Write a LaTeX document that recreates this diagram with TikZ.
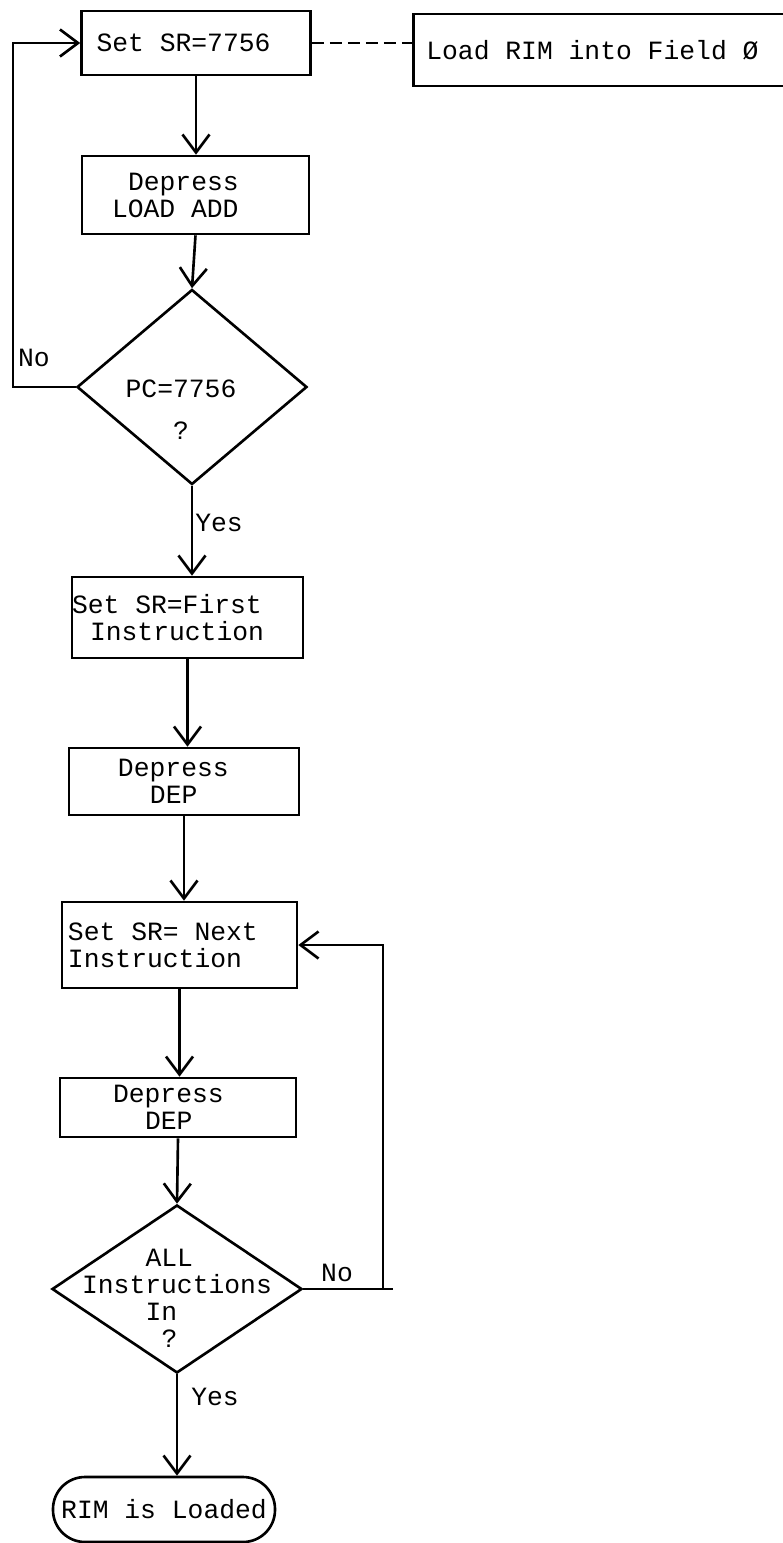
\documentclass[tikz,border=0pt]{standalone}
\usepackage{fontspec}
\usepackage{tikz}
\usetikzlibrary{shapes.geometric,arrows.meta}
\newfontfamily\flowfont{Liberation Mono}
\newcommand{\monogap}{\hspace*{0.6em}}

\begin{document}
\begin{tikzpicture}[every node/.style={font=\flowfont\fontsize{15}{15.4}\selectfont},
    stepbox/.style={draw,line width=1.5pt,inner sep=0pt,align=left},
    decision/.style={draw,line width=1.5pt,shape=diamond,inner sep=0pt},
    flow/.style={line width=1.5pt,-{Straight Barb[length=0.36cm,width=0.54cm]}}]
    \useasboundingbox (0,0) rectangle (15.64,-30.86);
    \node[stepbox,text width=4.58cm,minimum height=1.28cm] (setaddr) at (3.92,-0.86) {\hspace*{0.3cm}Set\monogap SR=7756};
    \node[stepbox,text width=7.8cm,minimum height=1.44cm,anchor=west] (loadrim) at (8.24,-1.0) {\hspace*{0.26cm}Load\monogap RIM\monogap into\monogap Field\monogap Ø};
    \node[stepbox,text width=4.54cm,minimum height=1.56cm] (loadadd) at (3.91,-3.9) {\hspace*{0.92cm}Depress\\\hspace*{0.6cm}LOAD\monogap ADD};
    \node[decision,minimum width=4.6cm,minimum height=3.9cm,
        label={[align=left,xshift=-0.22cm,yshift=-0.46cm]center:PC=7756\\[0.3cm]\hspace*{0.95cm}?}] (pccheck) at (3.84,-7.74) {};
    \node[stepbox,text width=4.62cm,minimum height=1.62cm] (firstins) at (3.75,-12.35) {Set\monogap SR=First\\\hspace*{0.36cm}Instruction};
    \node[stepbox,text width=4.6cm,minimum height=1.34cm] (depfirst) at (3.68,-15.63) {\hspace*{0.98cm}Depress\\\hspace*{1.62cm}DEP};
    \node[stepbox,text width=4.7cm,minimum height=1.72cm] (nextins) at (3.59,-18.9) {\hspace*{0.12cm}Set\monogap SR=\monogap Next\\\hspace*{0.12cm}Instruction};
    \node[stepbox,text width=4.72cm,minimum height=1.18cm] (depnext) at (3.56,-22.15) {\hspace*{1.06cm}Depress\\\hspace*{1.7cm}DEP};
    \node[decision,minimum width=5.0cm,minimum height=3.36cm,
        label={[align=left,yshift=-0.18cm]center:\hspace*{1.27cm}ALL\\Instructions\\\hspace*{1.27cm}In\\\hspace*{1.59cm}?}] (allin) at (3.54,-25.78) {};
    \node[stepbox,align=center,text width=4.44cm,minimum height=1.3cm,rounded corners=0.64cm] (loaded) at (3.28,-30.19) {RIM\monogap is\monogap Loaded};
    \node (nofirst) at (0.68,-7.16) {No};
    \node (yesfirst) at (4.38,-10.46) {Yes};
    \node (nonext) at (6.74,-25.46) {No};
    \node (yesnext) at (4.3,-27.94) {Yes};
    \coordinate (backleft) at (0.26,0);
    \coordinate (backright) at (7.66,0);
    \coordinate (backend) at (7.86,0);
    \draw[line width=1pt,dash pattern=on 0.24cm off 0.12cm] (setaddr.east) -- (setaddr.east -| loadrim.west);
    \draw[flow] (setaddr.south) -- (setaddr.south |- loadadd.north);
    \draw[flow] (loadadd.south) -- (pccheck.north);
    \draw[flow] (pccheck.west) -- (pccheck.west -| backleft) |- (setaddr.west);
    \draw[flow] (pccheck.south) -- (pccheck.south |- firstins.north);
    \draw[flow] (firstins.south) -- (firstins.south |- depfirst.north);
    \draw[flow] (depfirst.south) -- (depfirst.south |- nextins.north);
    \draw[flow] (nextins.south) -- (nextins.south |- depnext.north);
    \draw[flow] (depnext.south) -- (allin.north);
    \draw[line width=1.5pt] (allin.east) -- (allin.east -| backend);
    \draw[flow] (allin.east -| backright) |- (nextins.east);
    \draw[flow] (allin.south) -- (allin.south |- loaded.north);
\end{tikzpicture}
\end{document}
